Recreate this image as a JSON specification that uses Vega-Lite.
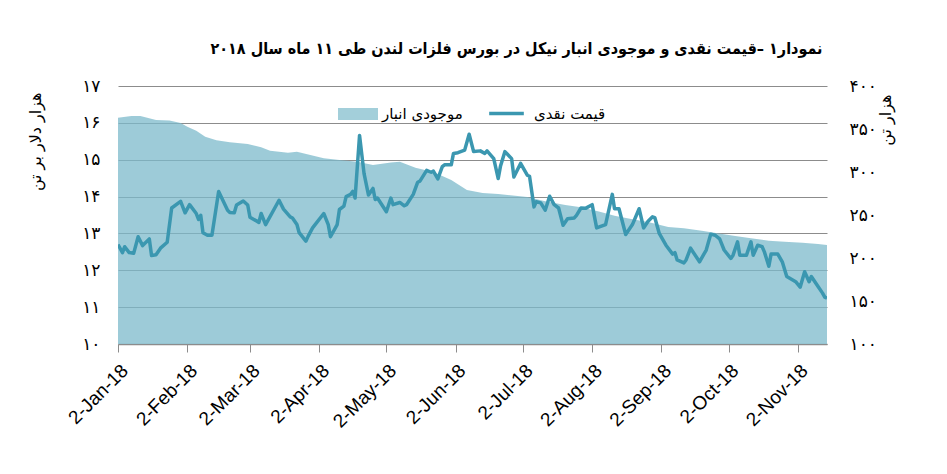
{
  "$schema": "https://vega.github.io/schema/vega-lite/v6.json",
  "width": 709,
  "height": 258,
  "autosize": {"type": "none"},
  "padding": {"left": 118, "top": 86, "right": 120, "bottom": 130},
  "background": "white",
  "title": {
    "text": "نمودار۱ –قیمت نقدی و موجودی انبار نیکل در بورس فلزات لندن طی ۱۱ ماه سال ۲۰۱۸",
    "font": "DejaVu Sans Condensed",
    "fontSize": 16,
    "fontWeight": "bold",
    "color": "black",
    "anchor": "middle",
    "dx": 44,
    "offset": 20
  },
  "datasets": {
    "stock": [
      {"date": "2018-01-02", "stock": 363},
      {"date": "2018-01-08", "stock": 365},
      {"date": "2018-01-12", "stock": 365},
      {"date": "2018-01-19", "stock": 360.5},
      {"date": "2018-01-25", "stock": 360},
      {"date": "2018-01-30", "stock": 357},
      {"date": "2018-02-02", "stock": 352.7},
      {"date": "2018-02-06", "stock": 348},
      {"date": "2018-02-10", "stock": 341},
      {"date": "2018-02-15", "stock": 337},
      {"date": "2018-02-21", "stock": 334.5},
      {"date": "2018-03-01", "stock": 332.5},
      {"date": "2018-03-07", "stock": 328.7},
      {"date": "2018-03-11", "stock": 324.8},
      {"date": "2018-03-19", "stock": 322.5},
      {"date": "2018-03-23", "stock": 323.6},
      {"date": "2018-03-29", "stock": 319.8},
      {"date": "2018-04-04", "stock": 316},
      {"date": "2018-04-11", "stock": 314},
      {"date": "2018-04-19", "stock": 312},
      {"date": "2018-04-26", "stock": 308},
      {"date": "2018-05-04", "stock": 311},
      {"date": "2018-05-08", "stock": 312},
      {"date": "2018-05-15", "stock": 305},
      {"date": "2018-05-23", "stock": 300},
      {"date": "2018-05-31", "stock": 290.7},
      {"date": "2018-06-07", "stock": 279},
      {"date": "2018-06-14", "stock": 275.6},
      {"date": "2018-06-21", "stock": 274.4},
      {"date": "2018-07-04", "stock": 271},
      {"date": "2018-07-12", "stock": 266},
      {"date": "2018-07-21", "stock": 261.6},
      {"date": "2018-07-28", "stock": 259},
      {"date": "2018-08-05", "stock": 254},
      {"date": "2018-08-12", "stock": 249},
      {"date": "2018-08-20", "stock": 245},
      {"date": "2018-08-27", "stock": 242},
      {"date": "2018-09-05", "stock": 236},
      {"date": "2018-09-12", "stock": 234.5},
      {"date": "2018-09-20", "stock": 231.7},
      {"date": "2018-09-27", "stock": 228.7},
      {"date": "2018-10-05", "stock": 225.6},
      {"date": "2018-10-12", "stock": 222.9},
      {"date": "2018-10-20", "stock": 220},
      {"date": "2018-10-27", "stock": 219},
      {"date": "2018-11-04", "stock": 217.8},
      {"date": "2018-11-11", "stock": 216.3},
      {"date": "2018-11-15", "stock": 215}
    ],
    "price": [
      {"date": "2018-01-02", "price": 12.70},
      {"date": "2018-01-04", "price": 12.48},
      {"date": "2018-01-05", "price": 12.64},
      {"date": "2018-01-07", "price": 12.48},
      {"date": "2018-01-09", "price": 12.46},
      {"date": "2018-01-11", "price": 12.91},
      {"date": "2018-01-13", "price": 12.67},
      {"date": "2018-01-16", "price": 12.85},
      {"date": "2018-01-17", "price": 12.40},
      {"date": "2018-01-19", "price": 12.42},
      {"date": "2018-01-21", "price": 12.60},
      {"date": "2018-01-24", "price": 12.76},
      {"date": "2018-01-26", "price": 13.69},
      {"date": "2018-01-30", "price": 13.87},
      {"date": "2018-02-01", "price": 13.56},
      {"date": "2018-02-03", "price": 13.78},
      {"date": "2018-02-06", "price": 13.54},
      {"date": "2018-02-07", "price": 13.38},
      {"date": "2018-02-08", "price": 13.49},
      {"date": "2018-02-09", "price": 13.02},
      {"date": "2018-02-11", "price": 12.95},
      {"date": "2018-02-13", "price": 12.95},
      {"date": "2018-02-16", "price": 14.14},
      {"date": "2018-02-20", "price": 13.63},
      {"date": "2018-02-21", "price": 13.57},
      {"date": "2018-02-23", "price": 13.56},
      {"date": "2018-02-24", "price": 13.77},
      {"date": "2018-02-27", "price": 13.88},
      {"date": "2018-03-01", "price": 13.77},
      {"date": "2018-03-02", "price": 13.44},
      {"date": "2018-03-06", "price": 13.30},
      {"date": "2018-03-07", "price": 13.54},
      {"date": "2018-03-09", "price": 13.24},
      {"date": "2018-03-15", "price": 13.90},
      {"date": "2018-03-17", "price": 13.66},
      {"date": "2018-03-20", "price": 13.45},
      {"date": "2018-03-21", "price": 13.42},
      {"date": "2018-03-23", "price": 13.24},
      {"date": "2018-03-24", "price": 13.02},
      {"date": "2018-03-27", "price": 12.79},
      {"date": "2018-03-28", "price": 12.92},
      {"date": "2018-03-30", "price": 13.15},
      {"date": "2018-04-04", "price": 13.54},
      {"date": "2018-04-06", "price": 13.24},
      {"date": "2018-04-07", "price": 12.91},
      {"date": "2018-04-10", "price": 13.24},
      {"date": "2018-04-11", "price": 13.65},
      {"date": "2018-04-13", "price": 13.74},
      {"date": "2018-04-14", "price": 14.00},
      {"date": "2018-04-16", "price": 14.06},
      {"date": "2018-04-17", "price": 14.14},
      {"date": "2018-04-18", "price": 13.96},
      {"date": "2018-04-20", "price": 15.66},
      {"date": "2018-04-22", "price": 14.63},
      {"date": "2018-04-24", "price": 14.04},
      {"date": "2018-04-26", "price": 14.22},
      {"date": "2018-04-27", "price": 13.92},
      {"date": "2018-04-28", "price": 13.96},
      {"date": "2018-05-02", "price": 13.59},
      {"date": "2018-05-04", "price": 13.96},
      {"date": "2018-05-05", "price": 13.78},
      {"date": "2018-05-08", "price": 13.84},
      {"date": "2018-05-10", "price": 13.75},
      {"date": "2018-05-11", "price": 13.78},
      {"date": "2018-05-14", "price": 14.06},
      {"date": "2018-05-16", "price": 14.39},
      {"date": "2018-05-17", "price": 14.42},
      {"date": "2018-05-20", "price": 14.71},
      {"date": "2018-05-22", "price": 14.66},
      {"date": "2018-05-23", "price": 14.69},
      {"date": "2018-05-25", "price": 14.48},
      {"date": "2018-05-27", "price": 14.81},
      {"date": "2018-05-28", "price": 14.86},
      {"date": "2018-05-31", "price": 14.86},
      {"date": "2018-06-01", "price": 15.17},
      {"date": "2018-06-03", "price": 15.19},
      {"date": "2018-06-06", "price": 15.26},
      {"date": "2018-06-08", "price": 15.69},
      {"date": "2018-06-10", "price": 15.22},
      {"date": "2018-06-13", "price": 15.24},
      {"date": "2018-06-15", "price": 15.17},
      {"date": "2018-06-16", "price": 15.24},
      {"date": "2018-06-19", "price": 15.03},
      {"date": "2018-06-21", "price": 14.49},
      {"date": "2018-06-22", "price": 14.82},
      {"date": "2018-06-24", "price": 15.22},
      {"date": "2018-06-27", "price": 15.03},
      {"date": "2018-06-28", "price": 14.53},
      {"date": "2018-07-01", "price": 14.90},
      {"date": "2018-07-04", "price": 14.58},
      {"date": "2018-07-05", "price": 14.55},
      {"date": "2018-07-07", "price": 13.72},
      {"date": "2018-07-08", "price": 13.86},
      {"date": "2018-07-10", "price": 13.83},
      {"date": "2018-07-12", "price": 13.63},
      {"date": "2018-07-14", "price": 14.01},
      {"date": "2018-07-16", "price": 13.78},
      {"date": "2018-07-18", "price": 13.69},
      {"date": "2018-07-20", "price": 13.22},
      {"date": "2018-07-22", "price": 13.40},
      {"date": "2018-07-25", "price": 13.42},
      {"date": "2018-07-26", "price": 13.49},
      {"date": "2018-07-28", "price": 13.69},
      {"date": "2018-07-30", "price": 13.68},
      {"date": "2018-08-02", "price": 13.78},
      {"date": "2018-08-04", "price": 13.15},
      {"date": "2018-08-08", "price": 13.24},
      {"date": "2018-08-11", "price": 14.06},
      {"date": "2018-08-12", "price": 13.67},
      {"date": "2018-08-14", "price": 13.67},
      {"date": "2018-08-17", "price": 12.97},
      {"date": "2018-08-20", "price": 13.24},
      {"date": "2018-08-23", "price": 13.67},
      {"date": "2018-08-25", "price": 13.15},
      {"date": "2018-08-27", "price": 13.33},
      {"date": "2018-08-29", "price": 13.45},
      {"date": "2018-08-30", "price": 13.43},
      {"date": "2018-09-01", "price": 13.00},
      {"date": "2018-09-04", "price": 12.68},
      {"date": "2018-09-07", "price": 12.44},
      {"date": "2018-09-08", "price": 12.48},
      {"date": "2018-09-09", "price": 12.28},
      {"date": "2018-09-12", "price": 12.20},
      {"date": "2018-09-13", "price": 12.28},
      {"date": "2018-09-15", "price": 12.60},
      {"date": "2018-09-19", "price": 12.23},
      {"date": "2018-09-22", "price": 12.55},
      {"date": "2018-09-24", "price": 12.98},
      {"date": "2018-09-26", "price": 12.95},
      {"date": "2018-09-28", "price": 12.85},
      {"date": "2018-09-30", "price": 12.55},
      {"date": "2018-10-03", "price": 12.32},
      {"date": "2018-10-04", "price": 12.41},
      {"date": "2018-10-06", "price": 12.77},
      {"date": "2018-10-07", "price": 12.41},
      {"date": "2018-10-10", "price": 12.41},
      {"date": "2018-10-12", "price": 12.77},
      {"date": "2018-10-13", "price": 12.41},
      {"date": "2018-10-15", "price": 12.68},
      {"date": "2018-10-17", "price": 12.64},
      {"date": "2018-10-18", "price": 12.50},
      {"date": "2018-10-20", "price": 12.11},
      {"date": "2018-10-21", "price": 12.44},
      {"date": "2018-10-24", "price": 12.44},
      {"date": "2018-10-26", "price": 12.23},
      {"date": "2018-10-28", "price": 11.83},
      {"date": "2018-11-01", "price": 11.69},
      {"date": "2018-11-03", "price": 11.54},
      {"date": "2018-11-05", "price": 11.96},
      {"date": "2018-11-07", "price": 11.69},
      {"date": "2018-11-08", "price": 11.83},
      {"date": "2018-11-11", "price": 11.56},
      {"date": "2018-11-13", "price": 11.38},
      {"date": "2018-11-14", "price": 11.27},
      {"date": "2018-11-15", "price": 11.24}
    ]
  },
  "encoding": {
    "x": {
      "field": "date",
      "type": "temporal",
      "title": null,
      "scale": {
        "type": "utc",
        "domain": [
          {"year": 2018, "month": 1, "date": 2, "utc": true},
          {"year": 2018, "month": 11, "date": 15, "utc": true}
        ]
      },
      "axis": {
        "values": [
          {"year": 2018, "month": 1, "date": 2, "utc": true},
          {"year": 2018, "month": 2, "date": 2, "utc": true},
          {"year": 2018, "month": 3, "date": 2, "utc": true},
          {"year": 2018, "month": 4, "date": 2, "utc": true},
          {"year": 2018, "month": 5, "date": 2, "utc": true},
          {"year": 2018, "month": 6, "date": 2, "utc": true},
          {"year": 2018, "month": 7, "date": 2, "utc": true},
          {"year": 2018, "month": 8, "date": 2, "utc": true},
          {"year": 2018, "month": 9, "date": 2, "utc": true},
          {"year": 2018, "month": 10, "date": 2, "utc": true},
          {"year": 2018, "month": 11, "date": 2, "utc": true}
        ],
        "format": "%-d-%b-%y",
        "labelAngle": -45,
        "labelFont": "Liberation Sans",
        "labelFontSize": 19,
        "labelColor": "black",
        "labelPadding": 9,
        "labelDx": 6,
        "labelFlush": false,
        "labelOverlap": false,
        "grid": false,
        "tickSize": 8,
        "tickColor": "#8c8c8c",
        "domainColor": "#8c8c8c",
        "domainWidth": 1.5
      }
    }
  },
  "layer": [
    {
      "data": {"name": "stock"},
      "mark": {"type": "area", "opacity": 0.75, "clip": true},
      "encoding": {
        "y": {
          "field": "stock",
          "type": "quantitative",
          "scale": {"domain": [100, 400], "zero": false, "nice": false},
          "axis": {
            "orient": "right",
            "values": [100, 150, 200, 250, 300, 350, 400],
            "labelExpr": "['۱۰۰','۱۵۰','۲۰۰','۲۵۰','۳۰۰','۳۵۰','۴۰۰'][(datum.value-100)/50]",
            "grid": false,
            "ticks": false,
            "domain": false,
            "labelPadding": 22,
            "labelFont": "DejaVu Sans",
            "labelFontSize": 17,
            "labelColor": "black",
            "title": "هزار تن",
            "titleFont": "DejaVu Sans",
            "titleFontSize": 16,
            "titleFontWeight": "normal",
            "titleColor": "black",
            "titleAngle": 270,
            "titleAlign": "right",
            "titleBaseline": "middle",
            "titleX": 58,
            "titleY": 8
          }
        },
        "y2": {"datum": 100},
        "fill": {
          "datum": "موجودی انبار",
          "type": "nominal",
          "scale": {"range": ["#7cbacb"]},
          "legend": {
            "orient": "none",
            "legendX": 220,
            "legendY": 8,
            "padding": 0,
            "title": null,
            "symbolType": "M-1,-0.3H1V0.3H-1Z",
            "symbolSize": 1600,
            "symbolOpacity": 0.7,
            "symbolStrokeWidth": 0,
            "labelFont": "DejaVu Sans",
            "labelFontSize": 15,
            "labelColor": "black",
            "labelOffset": 4
          }
        }
      }
    },
    {
      "data": {"name": "price"},
      "mark": {"type": "line", "strokeWidth": 3.5, "strokeJoin": "round", "clip": true},
      "encoding": {
        "y": {
          "field": "price",
          "type": "quantitative",
          "scale": {"domain": [10, 17], "zero": false, "nice": false},
          "axis": {
            "orient": "left",
            "values": [10, 11, 12, 13, 14, 15, 16, 17],
            "labelExpr": "['۱۰','۱۱','۱۲','۱۳','۱۴','۱۵','۱۶','۱۷'][datum.value-10]",
            "grid": true,
            "gridColor": "#8c8c8c",
            "gridWidth": 1,
            "ticks": false,
            "domain": false,
            "labelPadding": 18,
            "labelFont": "DejaVu Sans",
            "labelFontSize": 17,
            "labelColor": "black",
            "title": "هزار دلار بر تن",
            "titleFont": "DejaVu Sans",
            "titleFontSize": 16,
            "titleFontWeight": "normal",
            "titleColor": "black",
            "titleAngle": 270,
            "titleAlign": "right",
            "titleBaseline": "middle",
            "titleX": -83,
            "titleY": 6
          }
        },
        "stroke": {
          "datum": "قیمت نقدی",
          "type": "nominal",
          "scale": {"range": ["#3b97b0"]},
          "legend": {
            "orient": "none",
            "legendX": 369,
            "legendY": 8,
            "padding": 0,
            "title": null,
            "symbolType": "stroke",
            "symbolSize": 1200,
            "symbolStrokeWidth": 3.5,
            "labelFont": "DejaVu Sans",
            "labelFontSize": 15,
            "labelColor": "black",
            "labelOffset": 8
          }
        }
      }
    }
  ],
  "resolve": {"scale": {"y": "independent"}},
  "config": {
    "view": {"stroke": null}
  }
}
